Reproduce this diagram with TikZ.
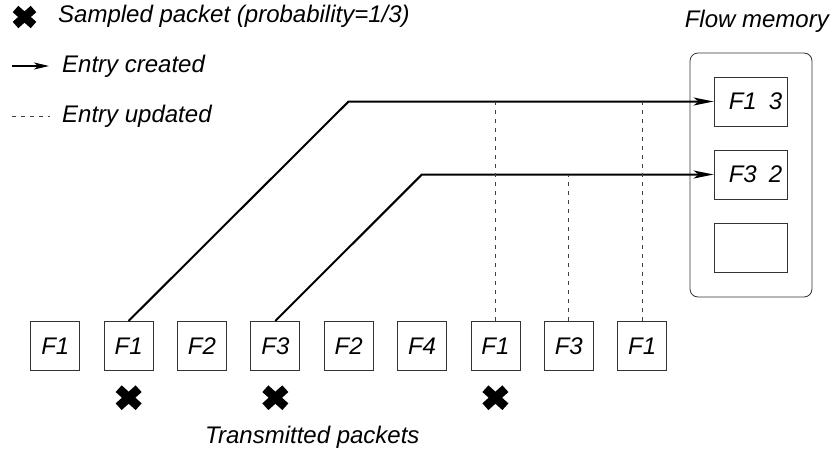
\documentclass[tikz,border=0pt]{standalone}
\usepackage{fontspec}
\setmainfont{Liberation Sans}
\usetikzlibrary{arrows.meta}
\begin{document}
\begin{tikzpicture}[x=1pt,y=-1pt,
  font=\fontsize{24}{28}\selectfont\itshape,
  pkt/.style={draw=black!80, line width=0.8pt, minimum width=49pt, minimum height=49pt, inner sep=0pt},
  slot/.style={draw=black!80, line width=0.8pt, minimum width=73pt, minimum height=49pt, inner sep=0pt},
  memory/.style={draw=black!80, line width=0.8pt, rounded corners=8pt, minimum width=122pt, minimum height=244pt, inner sep=0pt},
  created/.style={line width=2pt, -{Stealth[length=20pt,width=8pt,inset=5pt]}},
  updated/.style={line width=0.7pt, black!75, dash pattern=on 4pt off 5pt},
  lbl/.style={anchor=base west, inner sep=0pt},
  sampled/.pic={\draw[line width=9pt] (-10,-9)--(10,9) (-10,9)--(10,-9);},
  smallsampled/.pic={\draw[line width=8.5pt] (-9,-8)--(9,8) (-9,8)--(9,-8);}
]
\useasboundingbox (0,0) rectangle (836,453);

% legend
\path (24.5,17) pic {smallsampled};
\node[lbl] (tsamp) at (58,22) {Sampled packet (probability=1/3)};
\coordinate (la) at (12,66);
\coordinate (lb) at (49,66);
\draw[line width=1.8pt, -{Stealth[length=15pt,width=7pt,inset=4pt]}] (la) -- (lb);
\node[lbl] (tcreated) at (62,72) {Entry created};
\coordinate (lc) at (12,116);
\coordinate (ld) at (50,116);
\draw[updated] (lc) -- (ld);
\node[lbl] (tupdated) at (62,122) {Entry updated};

% flow memory
\node[anchor=base east, inner sep=0pt] (tmem) at (829,27) {Flow memory};
\node[memory] (mem) at (751,175) {};
\node[slot] (m1) at (750.5,101.5) {\hspace{10pt}F1\hspace{12pt}3};
\node[slot] (m2) at (750.5,174.5) {\hspace{10pt}F3\hspace{12pt}2};
\node[slot] (m3) at (750.5,247.5) {};

% transmitted packets
\foreach \i/\f in {1/F1,2/F1,3/F2,4/F3,5/F2,6/F4,7/F1,8/F3,9/F1}
  \node[pkt] (p\i) at ({55.3+73.35*(\i-1)},345.8) {\f};
\node[lbl] (ttrans) at (205,443) {Transmitted packets};

% sampled packets
\path (p2.south) ++(0,27) pic {sampled};
\path (p4.south) ++(0,27) pic {sampled};
\path (p7.south) ++(0,27) pic {sampled};

% entries created
\coordinate (k1) at (348.6,101.5);
\coordinate (k2) at (421.9,174.5);
\draw[created] (p2.north) -- (k1) -- (m1.west);
\draw[created] (p4.north) -- (k2) -- (m2.west);

% entries updated
\draw[updated] (p7.north) -- (p7.north |- m1.west);
\draw[updated] (p8.north) -- (p8.north |- m2.west);
\draw[updated] (p9.north) -- (p9.north |- m1.west);
\end{tikzpicture}
\end{document}
